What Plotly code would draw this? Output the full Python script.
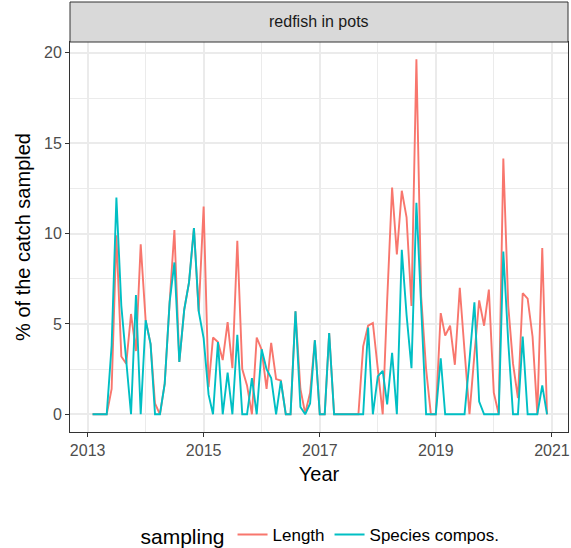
import pandas as pd
import plotly.graph_objects as go

# Monthly observations, Feb 2013 .. Dec 2020
months = pd.date_range("2013-02-01", periods=95, freq="MS")

length_pct = [
    0, 0, 0, 0, 1.4, 9.9, 3.2, 2.8, 5.55, 3.5, 9.4,            # 2013 Feb-Dec
    5.2, 3.9, 0.6, 0, 1.7, 6.2, 10.2, 2.9, 5.8, 7.3, 10.3, 5.7,  # 2014
    11.5, 1.5, 4.25, 4.0, 3.0, 5.1, 2.55, 9.6, 2.5, 1.6, 0, 4.25,  # 2015
    3.57, 1.4, 3.95, 1.95, 1.87, 0, 0, 5.7, 1.4, 0.05, 1.2, 4.1,  # 2016
    0, 0, 4.5, 0, 0, 0, 0, 0, 0, 3.76, 4.9, 5.05,                # 2017
    2.64, 0, 6.3, 12.55, 8.85, 12.37, 10.9, 6.0, 19.65, 6.5, 2.5, 0,  # 2018
    0, 5.6, 4.35, 4.9, 2.74, 7.0, 3.5, 0, 3.3, 6.3, 4.9, 6.9,    # 2019
    1.2, 0, 14.15, 6.0, 2.8, 0.9, 6.7, 6.4, 4.3, 0, 9.2, 0,      # 2020
]

species_pct = [
    0, 0, 0, 0, 3.8, 12.0, 6.0, 3.0, 0, 6.6, 0,                  # 2013 Feb-Dec
    5.2, 3.9, 0, 0, 1.7, 6.2, 8.4, 2.9, 5.8, 7.3, 10.3, 5.7,     # 2014
    4.2, 1.1, 0, 4.0, 0, 2.3, 0, 4.4, 0, 0, 2.0, 0,              # 2015
    3.6, 2.5, 2.0, 0, 1.85, 0, 0, 5.7, 0.4, 0, 0.6, 4.1,         # 2016
    0, 0, 4.5, 0, 0, 0, 0, 0, 0, 0, 4.8, 0,                      # 2017
    2.1, 2.4, 0.55, 3.4, 0, 9.1, 5.5, 2.55, 11.7, 6.1, 0, 0,     # 2018
    0, 3.1, 0, 0, 0, 0, 0, 3.0, 6.2, 0.7, 0, 0,                  # 2019
    0, 0, 9.0, 4.0, 0, 0, 4.3, 0, 0, 0, 1.6, 0,                  # 2020
]

series_names = ["Length", "Species compos."]
series_colors = ["#F8766D", "#00BFC4"]
panel_title = "redfish in pots"

fig = go.Figure()
for name, vals, col in zip(series_names, [length_pct, species_pct], series_colors):
    fig.add_trace(go.Scatter(x=months, y=vals, mode="lines", name=name,
                             line=dict(color=col, width=1.9)))

grid = "#EBEBEB"
axcol = "#333333"
fig.update_layout(
    width=571, height=548,
    margin=dict(l=70, r=3, t=42, b=116, autoexpand=False),
    plot_bgcolor="white", paper_bgcolor="white",
    font=dict(family="Liberation Sans, Arial, sans-serif", color="black"),
    showlegend=True,
    legend=dict(orientation="h", xref="paper", x=0.505, xanchor="center",
                yref="container", y=1 - 536 / 548, yanchor="middle",
                title=dict(text="sampling", font=dict(size=21, color="black")),
                font=dict(size=17, color="black"), itemwidth=30,
                tracegroupgap=0),
    xaxis=dict(type="date", range=["2012-09-12", "2021-04-12"],
               tick0="2013-01-01", dtick="M24", tickformat="%Y",
               ticks="outside", ticklen=4, tickcolor=axcol, tickwidth=1,
               tickfont=dict(size=16, color="#4D4D4D"),
               showline=True, mirror=True, linecolor=axcol, linewidth=1,
               showgrid=True, gridcolor=grid, gridwidth=1.5,
               minor=dict(tick0="2013-01-01", dtick="M12", showgrid=True,
                          gridcolor=grid, gridwidth=0.8),
               title=dict(text="Year", font=dict(size=20, color="black"), standoff=8),
               automargin=False, zeroline=False),
    yaxis=dict(range=[-0.98, 20.6], tick0=0, dtick=5,
               ticks="outside", ticklen=4, tickcolor=axcol, tickwidth=1,
               tickfont=dict(size=16, color="#4D4D4D"),
               showline=True, mirror=True, linecolor=axcol, linewidth=1,
               showgrid=True, gridcolor=grid, gridwidth=1.5,
               minor=dict(dtick=2.5, showgrid=True, gridcolor=grid, gridwidth=0.8),
               title=dict(text="% of the catch sampled", font=dict(size=20, color="black"), standoff=8),
               automargin=False, zeroline=False),
)

strip_h = 40 / 390
fig.add_shape(type="rect", xref="paper", yref="paper", x0=0, x1=1, y0=1, y1=1 + strip_h,
              fillcolor="#D9D9D9", line=dict(color=axcol, width=1), layer="above")
fig.add_annotation(text=panel_title, xref="paper", yref="paper", x=0.5, y=1 + strip_h / 2,
                   xanchor="center", yanchor="middle", showarrow=False,
                   font=dict(size=16, color="#1A1A1A"))

fig.write_html("out.html")
